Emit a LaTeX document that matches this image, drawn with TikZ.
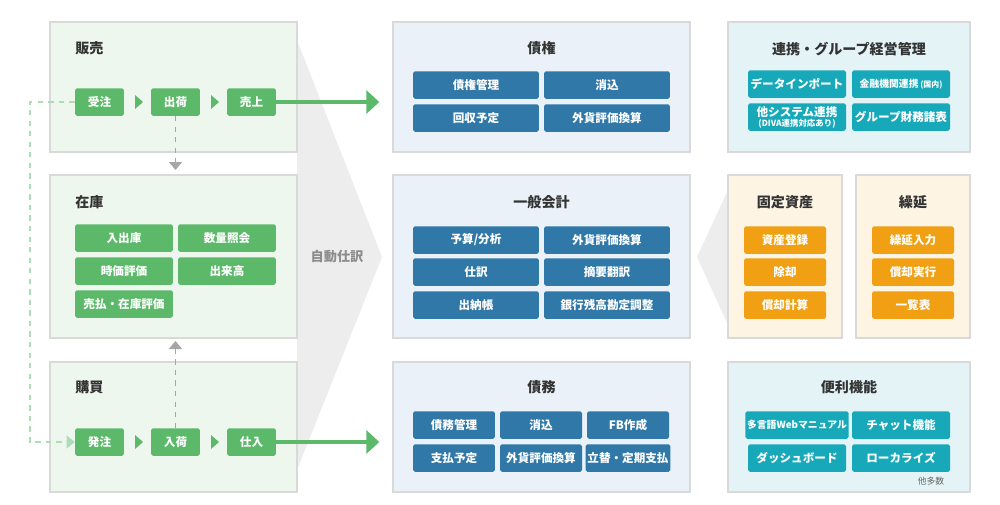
\documentclass[tikz,border=0pt]{standalone}
\usepackage{fontspec}
\setmainfont{Noto Sans CJK JP}
\usetikzlibrary{positioning}
\usetikzlibrary{arrows.meta}
\definecolor{grn}{HTML}{5CB96A}
\definecolor{grnbg}{HTML}{EEF7EE}
\definecolor{blu}{HTML}{2F78A8}
\definecolor{blubg}{HTML}{EAF1F8}
\definecolor{tea}{HTML}{17A9B9}
\definecolor{teabg}{HTML}{E4F4F6}
\definecolor{org}{HTML}{F0A012}
\definecolor{orgbg}{HTML}{FDF4E4}
\definecolor{chevgray}{HTML}{EDEDED}
\tikzset{
 panel/.style={rectangle, draw=black!15, thick, fill=#1},
 title/.style={font=\bfseries\fontsize{8}{9}\selectfont, text=black!80, inner sep=0},
 item/.style={rectangle, rounded corners=1pt, fill=#1, text=white,
  font=\bfseries\fontsize{6.6}{7.5}\selectfont, minimum height=0.55cm, inner sep=1pt, align=center},
 phase/.style={item=grn, minimum width=0.98cm},
 flow/.style={draw=grn, line width=2.3pt, -{Triangle[length=0.26cm, width=0.46cm]}, shorten >=0.26cm},
 link/.style={draw=black!35, thick, dashed, -{Triangle[length=0.16cm, width=0.26cm]}}
}
\begin{document}
\begin{tikzpicture}[x=0.02cm, y=-0.02cm]
 \useasboundingbox (0,0) rectangle (1000,504);
 % big chevron behind the left panels
 \fill[chevgray] (297,40) -- (382,257) -- (297,470) -- cycle;
 \fill[chevgray] (728,190) -- (697,257) -- (728,325) -- cycle;

 % left column
 \node[panel=grnbg, minimum width=4.94cm, minimum height=2.6cm] (hanbai) at (173.5,87) {};
 \node[panel=grnbg, minimum width=4.94cm, minimum height=3.26cm] (zaiko) at (173.5,256.5) {};
 \node[panel=grnbg, minimum width=4.94cm, minimum height=2.6cm] (kobai) at (173.5,427) {};
 \node[title, anchor=west] at (75,48) {販売};
 \node[title, anchor=west] at (75,202) {在庫};
 \node[title, anchor=west] at (75,387) {購買};

 \node[phase] (juchu) at (99.5,102) {受注};
 \node[phase] (shukka) at (175.5,102) {出荷};
 \node[phase] (uriage) at (251.5,102) {売上};
 \node[phase] (hatchu) at (99.5,442) {発注};
 \node[phase] (nyuka) at (175.5,442) {入荷};
 \node[phase] (shiire) at (251.5,442) {仕入};
 \foreach \y in {102,442}
  \foreach \x in {135,211}
   \fill[grn] (\x,\y-7) -- (\x+8,\y) -- (\x,\y+7) -- cycle;

 \node[item=grn, minimum width=1.96cm] (nyushukko) at (124,238) {入出庫};
 \node[item=grn, minimum width=1.96cm] (suryo) at (227,238) {数量照会};
 \node[item=grn, minimum width=1.96cm] (jika) at (124,271) {時価評価};
 \node[item=grn, minimum width=1.96cm] (dekidaka) at (227,271) {出来高};
 \node[item=grn, minimum width=1.96cm] (haraidashi) at (124,304) {売払・在庫評価};

 \coordinate (down) at (175.5,170);
 \coordinate (up) at (175.5,341);
 \draw[link] (shukka.south) -- (down);
 \draw[link] (nyuka.north) -- (up);
 \draw[draw=grn!50, thick, dashed, -{Triangle[length=0.16cm, width=0.26cm]}]
  (juchu.west) -| (30,442) -- (hatchu.west);

 \node[text=black!45, font=\bfseries\fontsize{7.5}{9}\selectfont] at (337,257) {自動仕訳};

 % middle column
 \node[panel=blubg, minimum width=5.94cm, minimum height=2.6cm] (saiken) at (541.5,87) {};
 \node[panel=blubg, minimum width=5.94cm, minimum height=3.26cm] (kaikei) at (541.5,256.5) {};
 \node[panel=blubg, minimum width=5.94cm, minimum height=2.6cm] (saimu) at (541.5,427) {};
 \node[title] at (541.5,48) {債権};
 \node[title] at (541.5,202) {一般会計};
 \node[title] at (541.5,387) {債務};

 \draw[flow] (uriage.east) -- (saiken.west |- uriage.east);
 \draw[flow] (shiire.east) -- (saimu.west |- shiire.east);

 \node[item=blu, minimum width=2.52cm] (kanri) at (476,85) {債権管理};
 \node[item=blu, minimum width=2.52cm] (keshikomi) at (607,85) {消込};
 \node[item=blu, minimum width=2.52cm] (kaishu) at (476,118) {回収予定};
 \node[item=blu, minimum width=2.52cm] (gaika) at (607,118) {外貨評価換算};

 \node[item=blu, minimum width=2.52cm] (yosan) at (476,240) {予算/分析};
 \node[item=blu, minimum width=2.52cm] (gaikakk) at (607,240) {外貨評価換算};
 \node[item=blu, minimum width=2.52cm] (shiwake) at (476,272) {仕訳};
 \node[item=blu, minimum width=2.52cm] (tekiyo) at (607,272) {摘要翻訳};
 \node[item=blu, minimum width=2.52cm] (suito) at (476,305) {出納帳};
 \node[item=blu, minimum width=2.52cm] (ginko) at (607,305) {銀行残高勘定調整};

 \node[item=blu, minimum width=1.64cm] (skanri) at (454,425) {債務管理};
 \node[item=blu, minimum width=1.64cm] (skeshi) at (541,425) {消込};
 \node[item=blu, minimum width=1.64cm] (fb) at (628,425) {FB作成};
 \node[item=blu, minimum width=1.64cm] (shiharai) at (454,458) {支払予定};
 \node[item=blu, minimum width=1.64cm] (sgaika) at (541,458) {外貨評価換算};
 \node[item=blu, minimum width=1.64cm] (tatekae) at (628,458) {立替・定期支払};

 % right column
 \node[panel=teabg, minimum width=4.84cm, minimum height=2.6cm] (renkei) at (849,87) {};
 \node[panel=orgbg, minimum width=2.28cm, minimum height=3.26cm] (kotei) at (785,256.5) {};
 \node[panel=orgbg, minimum width=2.28cm, minimum height=3.26cm] (kurinobe) at (913,256.5) {};
 \node[panel=teabg, minimum width=4.84cm, minimum height=2.6cm] (benri) at (849,427) {};
 \node[title] at (849,49) {連携・グループ経営管理};
 \node[title] at (785,202) {固定資産};
 \node[title] at (913,202) {繰延};
 \node[title] at (849,387) {便利機能};

 \node[item=tea, minimum width=1.96cm] (data) at (797,84) {データインポート};
 \node[item=tea, minimum width=1.96cm, font=\bfseries\fontsize{5.6}{6.5}\selectfont] (kinyu) at (901,84) {金融機関連携\,{\fontsize{4.5}{5}\selectfont(国内)}};
 \node[item=tea, minimum width=1.96cm, font=\bfseries\fontsize{6.6}{6.6}\selectfont] (tasys) at (797,117) {他システム連携\\[-1pt]{\fontsize{4.8}{5}\selectfont(DIVA連携対応あり)}};
 \node[item=tea, minimum width=1.96cm] (zaimu) at (901,117) {グループ財務諸表};

 \node[item=org, minimum width=1.64cm] (toroku) at (785,240) {資産登録};
 \node[item=org, minimum width=1.64cm] (jokyaku) at (785,272) {除却};
 \node[item=org, minimum width=1.64cm] (keisan) at (785,305) {償却計算};
 \node[item=org, minimum width=1.64cm] (nyuryoku) at (913,240) {繰延入力};
 \node[item=org, minimum width=1.64cm] (jikko) at (913,272) {償却実行};
 \node[item=org, minimum width=1.64cm] (ichiran) at (913,305) {一覧表};

 \node[item=tea, minimum width=1.96cm, font=\bfseries\fontsize{5.6}{6.5}\selectfont] (manual) at (797,425) {多言語Webマニュアル};
 \node[item=tea, minimum width=1.96cm] (chat) at (901,425) {チャット機能};
 \node[item=tea, minimum width=1.96cm] (dash) at (797,458) {ダッシュボード};
 \node[item=tea, minimum width=1.96cm] (local) at (901,458) {ローカライズ};
 \node[text=black!60, font=\fontsize{5}{6}\selectfont, inner sep=0] (hoka) at (931,481) {他多数};
\end{tikzpicture}
\end{document}
